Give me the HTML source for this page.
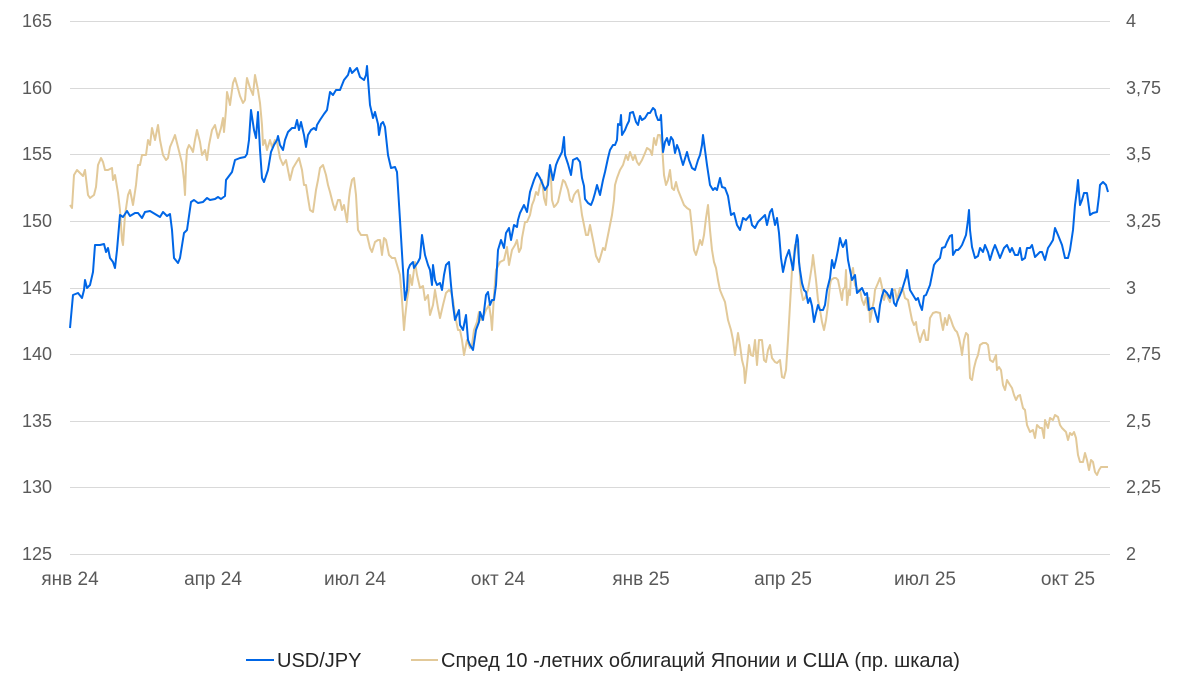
<!DOCTYPE html>
<html><head><meta charset="utf-8"><style>
html,body{margin:0;padding:0;background:#fff;}
svg{display:block;font-family:"Liberation Sans",sans-serif;}
.t{font-size:18px;fill:#595959;}
.tx{font-size:19px;fill:#595959;}
</style></head><body>
<svg width="1200" height="685" viewBox="0 0 1200 685" xmlns="http://www.w3.org/2000/svg">
<g stroke="#d9d9d9" stroke-width="1">
<line x1="70" y1="21.5" x2="1110" y2="21.5"/><line x1="70" y1="88.5" x2="1110" y2="88.5"/>
<line x1="70" y1="154.5" x2="1110" y2="154.5"/><line x1="70" y1="221.5" x2="1110" y2="221.5"/>
<line x1="70" y1="288.5" x2="1110" y2="288.5"/><line x1="70" y1="354.5" x2="1110" y2="354.5"/>
<line x1="70" y1="421.5" x2="1110" y2="421.5"/><line x1="70" y1="487.5" x2="1110" y2="487.5"/>
<line x1="70" y1="554.5" x2="1110" y2="554.5"/>
</g>
<g class="t" text-anchor="end">
<text x="52" y="27">165</text><text x="52" y="94">160</text><text x="52" y="160">155</text>
<text x="52" y="227">150</text><text x="52" y="294">145</text><text x="52" y="360">140</text>
<text x="52" y="427">135</text><text x="52" y="493">130</text><text x="52" y="560">125</text>
</g>
<g class="t" text-anchor="start">
<text x="1126" y="27">4</text><text x="1126" y="94">3,75</text><text x="1126" y="160">3,5</text>
<text x="1126" y="227">3,25</text><text x="1126" y="294">3</text><text x="1126" y="360">2,75</text>
<text x="1126" y="427">2,5</text><text x="1126" y="493">2,25</text><text x="1126" y="560">2</text>
</g>
<g class="tx" text-anchor="middle">
<text x="70" y="585">янв 24</text><text x="213" y="585">апр 24</text><text x="355" y="585">июл 24</text>
<text x="498" y="585">окт 24</text><text x="641" y="585">янв 25</text><text x="783" y="585">апр 25</text>
<text x="925" y="585">июл 25</text><text x="1068" y="585">окт 25</text>
</g>
<polyline fill="none" stroke="#e2c999" stroke-width="2" stroke-linejoin="round" points="70,205 72,208 74,175 77,170 80,173 83,176 85,170 88,195 90,198 94,195 96,187 98,165 101,158 103,162 105,170 108,170 112,168 113,180 115,175 118,193 120,210 122,240 123,245 125,215 128,195 130,190 133,205 136,185 138,165 140,165 142,155 146,155 148,140 150,145 152,128 155,140 157,130 158,125 160,140 163,155 166,160 168,158 170,147 173,140 175,135 180,155 182,163 184,180 185,195 186,165 187,150 189,145 191,148 193,152 195,140 197,130 200,142 202,155 205,150 207,160 209,145 212,130 215,125 218,138 221,128 223,118 224,132 226,110 227,92 229,100 230,105 233,83 235,78 237,85 240,96 243,103 245,100 246,88 247,78 250,88 253,95 254,85 255,75 258,90 260,103 262,125 263,145 265,140 267,150 270,140 272,147 275,140 277,142 280,158 283,165 286,160 290,180 293,168 296,163 299,158 302,170 304,185 306,185 308,198 310,210 313,212 316,190 318,180 320,168 323,165 326,175 328,185 330,192 333,204 335,210 338,200 340,200 342,210 344,205 347,222 349,198 350,190 352,180 354,178 356,195 358,230 361,235 363,235 367,235 370,248 372,252 375,242 378,240 380,240 382,255 384,238 386,240 389,255 392,258 395,258 400,275 402,300 404,330 405,318 407,300 409,288 410,275 412,285 415,262 417,275 420,288 423,286 425,300 428,295 430,315 433,305 435,290 438,308 440,318 443,305 446,293 449,290 451,292 453,300 455,315 458,330 460,330 462,340 464,355 467,340 470,348 472,345 474,330 477,322 479,312 481,320 484,315 486,310 489,305 491,318 492,330 494,295 496,270 500,262 504,260 507,247 509,265 512,250 515,245 517,240 519,252 521,248 522,238 525,222 527,222 530,215 532,205 534,200 536,192 538,195 540,185 542,180 544,198 546,205 547,190 549,170 551,178 552,200 554,207 556,205 558,202 560,193 563,180 565,182 568,190 570,200 572,202 574,195 576,192 578,190 580,200 582,215 584,225 586,235 588,235 590,225 592,235 594,245 596,256 599,262 601,255 603,248 605,250 607,240 610,225 612,215 614,200 615,185 617,178 620,170 623,165 626,155 628,160 630,152 633,160 635,155 637,162 639,165 642,160 645,153 647,148 650,150 652,155 654,138 656,145 658,135 660,135 662,145 664,175 666,185 668,180 670,170 672,188 674,190 676,182 678,190 680,195 682,200 684,205 687,208 690,210 692,228 694,250 696,255 698,248 700,240 702,245 704,235 706,218 708,205 710,230 712,250 714,262 716,268 718,280 720,290 722,295 725,302 728,320 731,330 733,340 735,355 737,340 738,333 740,345 742,360 744,368 745,383 747,365 749,345 751,355 753,356 755,340 757,365 759,340 762,340 764,360 766,362 768,350 770,345 772,358 775,362 777,363 780,360 782,377 784,378 786,370 788,340 790,305 792,270 794,255 795,245 797,245 799,260 801,290 803,300 805,298 808,290 810,278 812,265 813,255 816,280 818,300 820,310 822,322 824,330 826,320 828,305 830,285 831,280 834,278 836,278 838,280 840,290 842,300 843,290 845,287 846,270 847,305 849,290 850,295 851,275 853,268 855,285 858,290 860,290 862,300 864,305 866,298 868,310 869,298 870,322 872,310 874,300 875,290 878,283 880,278 882,287 884,300 886,292 888,298 890,302 892,290 895,290 897,300 900,288 903,290 905,298 908,300 910,310 912,320 914,325 916,322 917,330 919,338 920,342 922,335 924,330 926,340 928,340 930,318 933,313 936,312 940,313 941,320 943,330 945,318 947,325 949,315 951,320 953,326 955,330 957,332 959,338 961,348 962,355 964,340 966,333 968,335 970,378 972,380 974,368 976,360 978,355 980,345 983,343 986,343 988,345 990,360 993,362 996,355 997,370 999,367 1001,370 1003,385 1005,390 1007,380 1010,385 1012,388 1014,395 1016,400 1018,396 1020,395 1023,408 1025,410 1027,425 1030,432 1033,430 1035,438 1037,425 1040,428 1042,428 1044,438 1045,420 1048,428 1050,418 1053,420 1055,415 1058,417 1060,425 1062,428 1064,430 1066,432 1068,440 1070,433 1072,435 1074,432 1076,438 1078,455 1080,462 1083,462 1085,453 1087,460 1089,470 1091,460 1093,462 1095,472 1097,475 1099,470 1101,467 1104,467 1108,467"/>
<polyline fill="none" stroke="#0066e6" stroke-width="2" stroke-linejoin="round" points="70,328 73,295 78,293 82,298 84,290 85,280 87,288 90,285 93,272 95,245 100,245 104,244 106,252 108,248 110,258 113,262 115,268 117,250 120,215 123,217 127,211 130,216 135,213 138,213 142,218 145,212 150,211 155,214 160,217 163,212 167,216 170,214 172,230 174,258 178,263 180,258 184,233 187,230 191,202 194,200 198,203 203,202 207,198 210,200 215,199 218,197 221,199 225,196 226,180 232,172 235,160 240,158 245,157 247,154 249,140 251,110 254,130 256,138 258,112 260,150 262,178 264,182 268,170 271,152 274,145 277,140 278,136 280,145 283,150 285,140 288,132 292,128 295,128 297,120 299,130 301,122 304,135 306,147 308,135 311,130 314,128 316,130 317,125 320,120 324,114 327,110 330,92 333,95 336,90 340,90 344,80 348,75 350,68 352,73 355,70 357,68 360,77 364,80 366,75 367,66 370,105 373,118 375,112 378,124 379,135 381,124 383,122 385,127 388,155 391,168 395,167 397,172 400,220 403,270 405,300 407,290 408,270 410,265 413,262 414,268 418,262 420,258 422,235 425,255 428,265 430,270 432,285 433,265 435,280 437,285 440,283 442,290 444,275 446,265 449,262 451,285 453,305 455,320 459,310 460,325 463,330 466,315 468,340 470,345 473,350 476,330 479,322 480,312 483,320 486,295 488,292 490,305 492,300 494,300 496,285 498,250 501,240 504,248 506,233 509,228 511,240 514,225 517,227 518,220 520,213 524,205 527,212 530,192 534,180 537,173 540,178 543,185 545,190 548,185 550,165 553,180 556,165 558,160 562,152 564,137 565,155 568,164 571,175 573,160 577,158 580,162 582,178 584,186 585,199 588,203 591,205 593,200 595,193 597,185 600,195 603,180 605,172 608,158 610,150 613,145 615,145 617,140 618,124 620,125 621,115 622,135 625,130 627,125 629,121 630,113 633,112 636,122 638,125 640,116 642,120 645,118 648,113 650,113 653,108 655,110 656,115 658,120 660,120 661,115 663,152 665,142 667,138 669,145 671,137 673,140 675,153 677,145 679,150 681,158 683,165 687,152 689,160 692,168 695,170 698,160 700,155 702,145 703,135 705,150 707,165 710,185 713,190 715,188 717,190 720,178 722,187 725,188 728,196 731,215 734,213 737,225 740,230 743,218 746,220 750,215 752,225 755,228 758,222 760,220 765,215 767,225 770,212 772,209 775,225 777,218 779,233 781,258 783,272 786,258 789,250 791,260 793,270 795,249 797,235 798,240 799,262 800,270 802,283 804,290 806,292 808,303 810,298 812,306 814,322 816,313 818,305 820,310 823,310 825,305 827,290 830,278 832,260 834,268 836,260 838,250 840,238 842,245 843,247 846,240 848,260 850,270 852,280 855,275 857,293 860,290 862,288 865,295 867,293 869,310 872,308 874,308 876,315 878,322 880,305 882,296 884,290 887,293 890,298 892,289 894,303 896,306 897,302 900,295 902,290 905,280 906,277 907,270 910,290 913,295 916,300 918,298 920,305 922,310 924,296 926,295 928,290 930,285 932,275 934,265 936,262 938,260 940,258 942,248 945,247 947,242 950,236 952,235 953,255 956,250 958,250 960,248 962,245 964,240 966,235 968,220 969,210 970,230 972,247 975,258 978,256 980,248 983,252 985,245 988,252 990,260 993,250 995,245 997,250 1000,258 1002,253 1004,248 1007,245 1010,252 1012,248 1015,255 1018,255 1020,248 1022,260 1025,258 1027,248 1030,248 1032,245 1035,257 1037,255 1040,252 1042,252 1045,260 1048,248 1050,245 1053,240 1055,228 1058,235 1062,245 1065,258 1068,258 1070,250 1073,230 1075,205 1077,190 1078,180 1080,205 1082,200 1084,193 1087,193 1088,200 1090,215 1093,213 1097,212 1099,196 1100,185 1103,182 1106,185 1108,192"/>
<line x1="246" y1="660" x2="274" y2="660" stroke="#0066e6" stroke-width="2"/>
<text x="277" y="667" font-size="20" fill="#262626">USD/JPY</text>
<line x1="411" y1="660" x2="438" y2="660" stroke="#e2c999" stroke-width="2"/>
<text x="441" y="667" font-size="20" fill="#262626">Спред 10 -летних облигаций Японии и США (пр. шкала)</text>
</svg>
</body></html>
